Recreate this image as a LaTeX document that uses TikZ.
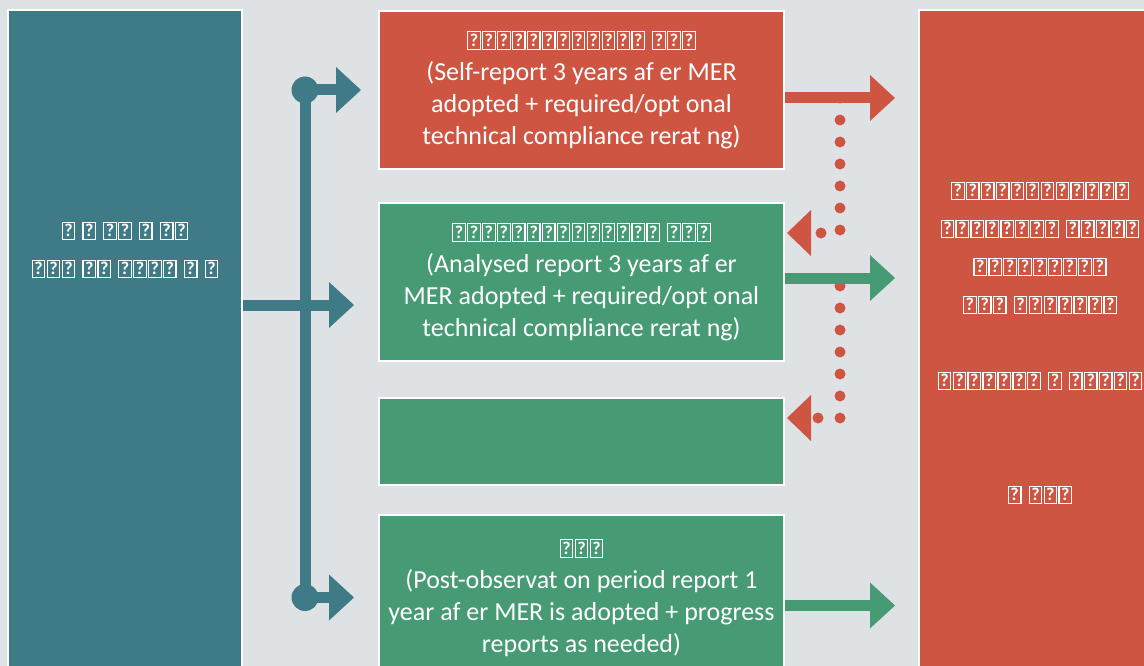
\documentclass[tikz,border=0pt]{standalone}
\usepackage{fontspec}
\setmainfont{Carlito}
\usepackage{xcolor}
\usetikzlibrary{arrows.meta}

\definecolor{bggray}{HTML}{DFE2E5}
\definecolor{mfteal}{HTML}{3F7A87}
\definecolor{mfred}{HTML}{CD5541}
\definecolor{mfgreen}{HTML}{469A74}

\setlength{\fboxsep}{1.5pt}
\setlength{\fboxrule}{1.2pt}
\newcommand{\tofu}{\kern0.6pt\fbox{\fontsize{18}{18}\selectfont\bfseries\rule[-1pt]{0pt}{13.5pt}?}\kern0.6pt}
\newcommand{\tofus}[1]{\foreach \k in {1,...,#1}{\tofu}}

\begin{document}
\begin{tikzpicture}[x=1pt, y=-1pt,
    panel/.style={draw=white, line width=2pt, inner sep=0pt, minimum width=405pt,
      text=white, align=center, font=\fontsize{26}{32}\selectfont},
    boxtext/.style={text=white, align=center, font=\fontsize{26}{38}\selectfont},
    fatarrow/.style={line width=11pt, -{Triangle[length=25pt, width=46pt, line width=0pt]}},
    dotline/.style={line width=11pt, line cap=round, dash pattern=on 0pt off 22pt,
      -{Triangle[length=24pt, width=46pt, line width=0pt]}}]
  \useasboundingbox (0,0) rectangle (1144,666);
  \clip (0,0) rectangle (1144,666);
  \fill[bggray] (0,0) rectangle (1144,666);

  % side panels, both run past the bottom edge
  \node[panel, fill=mfteal, minimum width=234pt, minimum height=680pt] (lead) at (125,350) {};
  \node[panel, fill=mfred, minimum width=248pt, minimum height=680pt] (outcome) at (1043,350) {};
  \node[boxtext] (leadtext) at (125,250)
    {\tofu\ \tofu\ \tofus{2} \tofu\ \tofus{2}\\\tofus{3} \tofus{2} \tofus{4} \tofu\ \tofu};
  \node[boxtext] (outcometext) at (1040,343)
    {\tofus{12}\\\tofus{8} \tofus{5}\\\tofus{9}\\\tofus{3} \tofus{7}\\\mbox{}\\
     \tofus{7} \tofu\ \tofus{5}\\\mbox{}\\\mbox{}\\\tofu\ \tofus{3}};

  % report boxes
  \node[panel, fill=mfred, minimum height=158pt] (selfrep) at (581.5,90)
    {\tofus{12} \tofus{3}\\[2pt](Self-report 3 years af er MER\\adopted + required/opt onal\\technical compliance rerat ng)};
  \node[panel, fill=mfgreen, minimum height=158pt] (analysed) at (581.5,282)
    {\tofus{14} \tofus{3}\\[2pt](Analysed report 3 years af er\\MER adopted + required/opt onal\\technical compliance rerat ng)};
  \node[panel, fill=mfgreen, minimum height=87pt] (pending) at (581.5,441.5) {};
  \node[panel, fill=mfgreen, minimum height=165pt] (postobs) at (581.5,597.5)
    {\tofus{3}\\[2pt](Post-observat on period report 1\\year af er MER is adopted + progress\\reports as needed)};

  % teal branching
  \coordinate (trunktop) at (selfrep.west -| 305,0);
  \coordinate (trunkbot) at (postobs.west -| 305,0);
  \draw[mfteal, line width=11pt] (trunktop) -- (trunkbot);
  \fill[mfteal] (trunktop) circle (13.5pt) (trunkbot) circle (13.5pt);
  \draw[mfteal, fatarrow, shorten >=17pt] (trunktop) -- (selfrep.west);
  \draw[mfteal, fatarrow, shorten >=24pt] (trunkbot) -- (postobs.west);
  \draw[mfteal, fatarrow, shorten >=24pt] (lead.east |- 0,305) -- (analysed.west |- 0,305);

  % feedback loops
  \draw[mfred, dotline, shorten >=2pt] ([xshift=55pt,yshift=-8pt]selfrep.east) |- ([yshift=49pt]analysed.east);
  \draw[mfred, dotline, shorten >=2pt] ([xshift=55pt,yshift=-4pt]analysed.east) |- ([yshift=23.5pt]pending.east);

  % into the outcome panel
  \draw[mfred, fatarrow, shorten >=23pt] ([yshift=-8pt]selfrep.east) -- ([yshift=-8pt]selfrep.east -| outcome.west);
  \draw[mfgreen, fatarrow, shorten >=23pt] ([yshift=4pt]analysed.east) -- ([yshift=4pt]analysed.east -| outcome.west);
  \draw[mfgreen, fatarrow, shorten >=23pt] ([yshift=-8pt]postobs.east) -- ([yshift=-8pt]postobs.east -| outcome.west);
\end{tikzpicture}
\end{document}
